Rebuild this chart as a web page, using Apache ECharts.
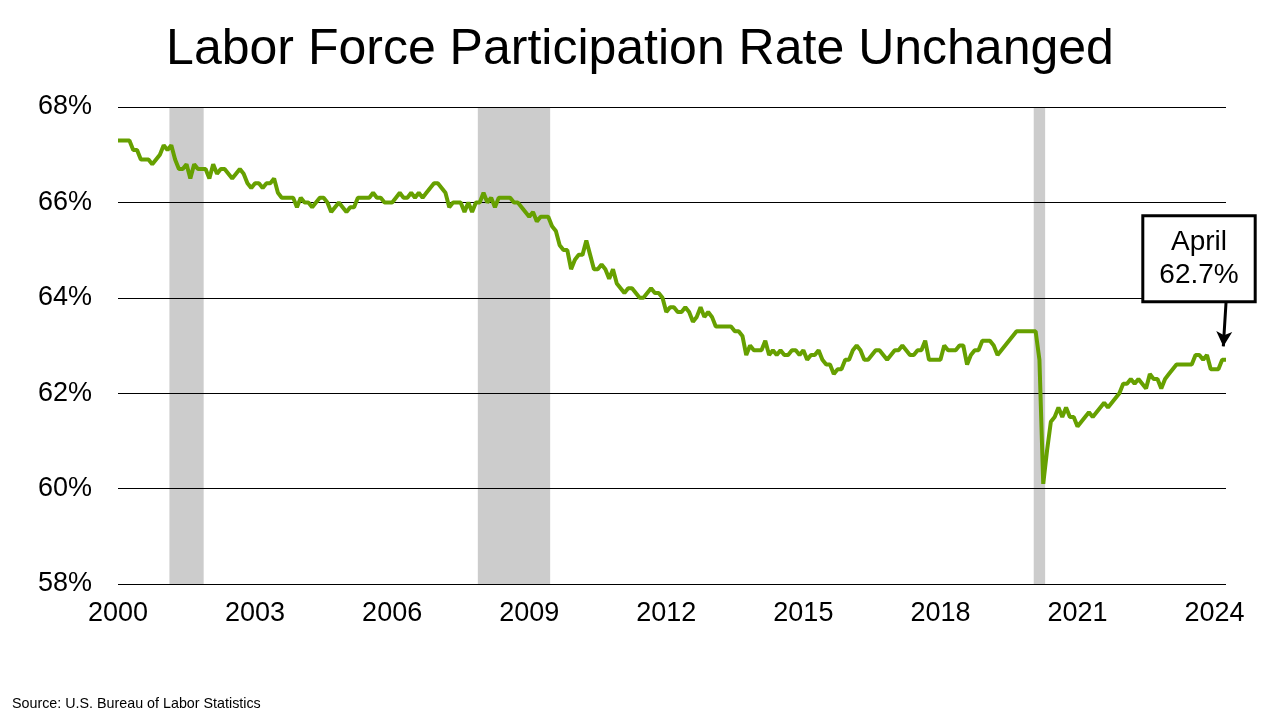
<!DOCTYPE html>
<html style="height:100%">
<meta charset="utf-8" />
<title>Labor Force Participation Rate Unchanged</title>
<script src="https://cdn.jsdelivr.net/npm/echarts@6/dist/echarts.min.js"></script>
<body style="margin:0;height:100%;width:100%;background:#fff">
<div id="chartmain" style="width:1280px;height:720px;"></div>
<script type="text/javascript">

    var FIRST_YEAR = 2000;

    // monthly participation rate, Jan 2000 .. Apr 2024 (one row per year)
    var rate = [
        67.3, 67.3, 67.3, 67.3, 67.1, 67.1, 66.9, 66.9, 66.9, 66.8, 66.9, 67.0,
        67.2, 67.1, 67.2, 66.9, 66.7, 66.7, 66.8, 66.5, 66.8, 66.7, 66.7, 66.7,
        66.5, 66.8, 66.6, 66.7, 66.7, 66.6, 66.5, 66.6, 66.7, 66.6, 66.4, 66.3,
        66.4, 66.4, 66.3, 66.4, 66.4, 66.5, 66.2, 66.1, 66.1, 66.1, 66.1, 65.9,
        66.1, 66.0, 66.0, 65.9, 66.0, 66.1, 66.1, 66.0, 65.8, 65.9, 66.0, 65.9,
        65.8, 65.9, 65.9, 66.1, 66.1, 66.1, 66.1, 66.2, 66.1, 66.1, 66.0, 66.0,
        66.0, 66.1, 66.2, 66.1, 66.1, 66.2, 66.1, 66.2, 66.1, 66.2, 66.3, 66.4,
        66.4, 66.3, 66.2, 65.9, 66.0, 66.0, 66.0, 65.8, 66.0, 65.8, 66.0, 66.0,
        66.2, 66.0, 66.1, 65.9, 66.1, 66.1, 66.1, 66.1, 66.0, 66.0, 65.9, 65.8,
        65.7, 65.8, 65.6, 65.7, 65.7, 65.7, 65.5, 65.4, 65.1, 65.0, 65.0, 64.6,
        64.8, 64.9, 64.9, 65.2, 64.9, 64.6, 64.6, 64.7, 64.6, 64.4, 64.6, 64.3,
        64.2, 64.1, 64.2, 64.2, 64.1, 64.0, 64.0, 64.1, 64.2, 64.1, 64.1, 64.0,
        63.7, 63.8, 63.8, 63.7, 63.7, 63.8, 63.7, 63.5, 63.6, 63.8, 63.6, 63.7,
        63.6, 63.4, 63.4, 63.4, 63.4, 63.4, 63.3, 63.3, 63.2, 62.8, 63.0, 62.9,
        62.9, 62.9, 63.1, 62.8, 62.9, 62.8, 62.9, 62.8, 62.8, 62.9, 62.9, 62.8,
        62.9, 62.7, 62.8, 62.8, 62.9, 62.7, 62.6, 62.6, 62.4, 62.5, 62.5, 62.7,
        62.7, 62.9, 63.0, 62.9, 62.7, 62.7, 62.8, 62.9, 62.9, 62.8, 62.7, 62.8,
        62.9, 62.9, 63.0, 62.9, 62.8, 62.8, 62.9, 62.9, 63.1, 62.7, 62.7, 62.7,
        62.7, 63.0, 62.9, 62.9, 62.9, 63.0, 63.0, 62.6, 62.8, 62.9, 62.9, 63.1,
        63.1, 63.1, 63.0, 62.8, 62.9, 63.0, 63.1, 63.2, 63.3, 63.3, 63.3, 63.3,
        63.3, 63.3, 62.7, 60.1, 60.8, 61.4, 61.5, 61.7, 61.5, 61.7, 61.5, 61.5,
        61.3, 61.4, 61.5, 61.6, 61.5, 61.6, 61.7, 61.8, 61.7, 61.8, 61.9, 62.0,
        62.2, 62.2, 62.3, 62.2, 62.3, 62.2, 62.1, 62.4, 62.3, 62.3, 62.1, 62.3,
        62.4, 62.5, 62.6, 62.6, 62.6, 62.6, 62.6, 62.8, 62.8, 62.7, 62.8, 62.5,
        62.5, 62.5, 62.7, 62.7
    ];

    // recession months (start, end), shaded grey
    var recessions = [
        ['2001-03', '2001-11'],
        ['2007-12', '2009-06'],
        ['2020-02', '2020-04']
    ];

    var yTicks = [58, 60, 62, 64, 66, 68];
    var calloutText = ['April', '62.7%'];

    // month labels built from the start year
    var months = [];
    for (var i = 0; i < rate.length; i++) {
        var y = FIRST_YEAR + Math.floor(i / 12);
        var m = (i % 12) + 1;
        months.push(y + '-' + (m < 10 ? '0' + m : m));
    }

    var points = [];
    for (var i = 0; i < rate.length; i++) {
        points.push([i, rate[i]]);
    }

    var shade = [];
    for (var i = 0; i < recessions.length; i++) {
        shade.push([
            { xAxis: months.indexOf(recessions[i][0]) - 0.5 },
            { xAxis: months.indexOf(recessions[i][1]) + 0.5 }
        ]);
    }

    var last = rate.length - 1;
    var font = 'Arial, "Liberation Sans", sans-serif';

    var myChart = echarts.init(document.getElementById('chartmain'));
    var option = {
        backgroundColor: '#fff',
        animation: false,
        title: [{
            text: 'Labor Force Participation Rate Unchanged',
            left: 'center',
            top: 20,
            textStyle: { fontFamily: font, fontSize: 50, fontWeight: 'normal', color: '#000' }
        }, {
            text: 'Source: U.S. Bureau of Labor Statistics',
            left: 7,
            top: 692,
            textStyle: { fontFamily: font, fontSize: 14.3, fontWeight: 'normal', color: '#000' }
        }],
        grid: { left: 118, right: 54, top: 107, bottom: 136 },
        xAxis: {
            type: 'value',
            min: 0,
            max: last,
            interval: 36,
            axisLine: { show: false },
            axisTick: { show: false },
            splitLine: { show: false },
            axisLabel: {
                margin: 16,
                fontFamily: font,
                fontSize: 27,
                color: '#000',
                showMaxLabel: false,
                formatter: function (v) {
                    return v % 36 === 0 ? months[v].slice(0, 4) : '';
                }
            }
        },
        yAxis: {
            type: 'value',
            min: yTicks[0],
            max: yTicks[yTicks.length - 1],
            interval: 2,
            axisLine: { show: false },
            axisTick: { show: false },
            splitLine: { lineStyle: { color: '#000', width: 1 } },
            axisLabel: {
                margin: 26,
                fontFamily: font,
                fontSize: 27,
                color: '#000',
                formatter: '{value}%'
            }
        },
        series: [{
            type: 'line',
            data: [],
            markArea: {
                silent: true,
                itemStyle: { color: 'rgba(0,0,0,0.2)' },
                data: shade
            }
        }, {
            type: 'line',
            data: points,
            showSymbol: false,
            lineStyle: { color: '#66A000', width: 4 },
            itemStyle: { color: '#66A000' },
            markLine: {
                silent: true,
                symbol: ['none', 'arrow'],
                symbolSize: [12, 15],
                label: { show: false },
                lineStyle: { color: '#000', width: 3, type: 'solid' },
                data: [[
                    { coord: [last, 63.9] },
                    { coord: [last - 0.7, 62.98] }
                ]]
            },
            markPoint: {
                silent: true,
                symbol: 'circle',
                symbolSize: 1,
                itemStyle: { color: 'rgba(0,0,0,0)' },
                label: {
                    show: true,
                    position: 'inside',
                    offset: [-27, -101],
                    formatter: calloutText.join('\n'),
                    fontFamily: font,
                    fontSize: 28,
                    lineHeight: 33,
                    color: '#000',
                    align: 'center',
                    backgroundColor: '#fff',
                    borderColor: '#000',
                    borderWidth: 3,
                    padding: [9, 15, 8, 15]
                },
                data: [{ coord: [last, rate[last]] }]
            }
        }]
    };
    myChart.setOption(option);
</script>
</body>
</html>
